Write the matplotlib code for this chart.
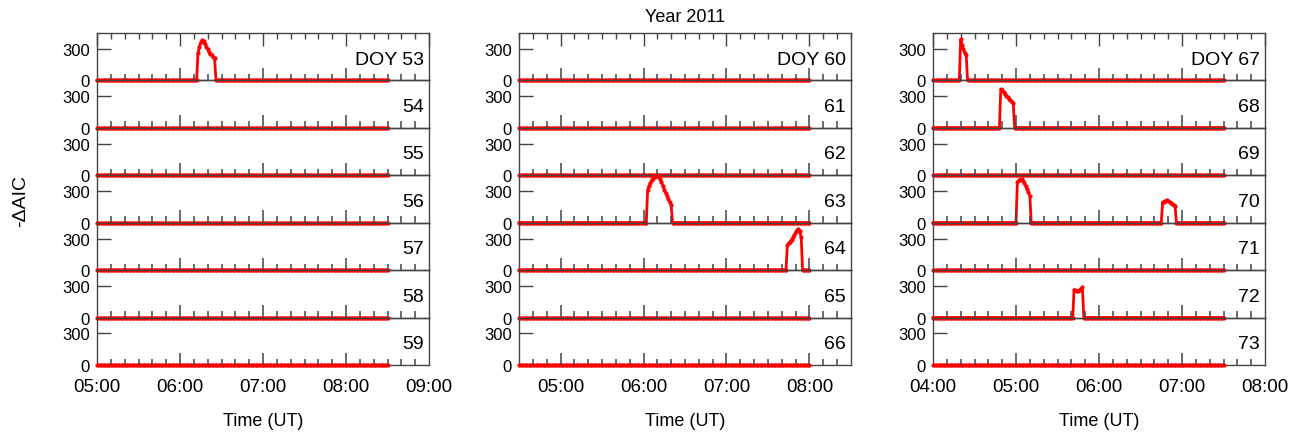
import numpy as np
import matplotlib
matplotlib.use('Agg')
import matplotlib.pyplot as plt
from matplotlib.ticker import MultipleLocator, FuncFormatter

plt.rcParams['font.family'] = ['Liberation Sans', 'DejaVu Sans']

# dias de cada coluna
doys_col1 = [53, 54, 55, 56, 57, 58, 59]
doys_col2 = [60, 61, 62, 63, 64, 65, 66]
doys_col3 = [67, 68, 69, 70, 71, 72, 73]

# inicio / fim dos dados e limites do eixo x (UT)
data_start = ['05:00', '04:30', '04:00']
data_end = ['08:30', '08:00', '07:30']
xlim_start = ['05:00', '04:30', '04:00']
xlim_end = ['09:00', '08:30', '08:00']

# eventos (-dAIC, amostras de 1 minuto a partir de t0)
ev53_t0 = '06:13'
ev53 = [260, 320, 360, 380, 370, 345, 320, 295, 270, 255, 240, 225, 210]
ev63_t0 = '06:03'
ev63 = [310, 350, 380, 405, 425, 435, 440, 445, 440, 415, 385, 350, 315,
        285, 255, 225, 195, 165]
ev64_t0 = '07:44'
ev64 = [240, 255, 270, 290, 310, 335, 360, 380, 390, 370, 310]
ev67_t0 = '04:20'
ev67 = [390, 340, 300, 260, 240]
ev68_t0 = '04:49'
ev68 = [365, 355, 340, 320, 305, 290, 275, 260, 248, 238]
ev70a_t0 = '05:01'
ev70a = [390, 402, 410, 412, 400, 378, 350, 320, 290, 255]
ev70b_t0 = '06:46'
ev70b = [195, 200, 208, 215, 210, 195, 185, 175, 165, 155]
ev72_t0 = '05:42'
ev72 = [265, 258, 255, 256, 262, 275, 290]

events = {53: [(ev53_t0, ev53)], 63: [(ev63_t0, ev63)], 64: [(ev64_t0, ev64)],
          67: [(ev67_t0, ev67)], 68: [(ev68_t0, ev68)],
          70: [(ev70a_t0, ev70a), (ev70b_t0, ev70b)], 72: [(ev72_t0, ev72)]}


def minutos(hhmm):
    h, m = hhmm.split(':')
    return int(h) * 60 + int(m)


def fmt_hora(v, pos):
    m = int(round(v * 60))
    return '%02d:%02d' % (m // 60, m % 60)


cols = [doys_col1, doys_col2, doys_col3]
lefts = [97, 519, 933]
width = 332
top_px, bot_px = 34, 366
W, H = 1304, 439
ph = (bot_px - top_px) / 7

fig = plt.figure(figsize=(W / 100, H / 100), dpi=100)
spc = '#444444'

for c, doys in enumerate(cols):
    mins = np.arange(minutos(data_start[c]), minutos(data_end[c]) + 1)
    x0 = minutos(xlim_start[c]) / 60.0
    x1 = minutos(xlim_end[c]) / 60.0
    for i, doy in enumerate(doys):
        ytop = top_px + i * ph
        ax = fig.add_axes([lefts[c] / W, 1 - (ytop + ph) / H, width / W, ph / H])
        ax.set_facecolor('none')
        y = np.zeros(len(mins))
        for t0, vals in events.get(doy, []):
            k = minutos(t0) - mins[0]
            y[k:k + len(vals)] = vals
        ax.plot(mins / 60.0, y, color='red', lw=2, marker='o', ms=2,
                clip_on=False, zorder=5)
        ax.set_xlim(x0, x1)
        ax.set_ylim(0, 450)
        ax.set_yticks([0, 300])
        ax.xaxis.set_major_locator(MultipleLocator(1))
        ax.xaxis.set_minor_locator(MultipleLocator(1 / 6))
        ax.xaxis.set_major_formatter(FuncFormatter(fmt_hora))
        for sp in ax.spines.values():
            sp.set_color(spc)
            sp.set_linewidth(1)
        ax.tick_params(axis='x', which='both', bottom=False)
        if i == 0:
            ax.tick_params(axis='x', which='major', direction='in', top=True,
                           length=9, width=1, color=spc)
            ax.tick_params(axis='x', which='minor', direction='in', top=True,
                           length=4.5, width=1, color=spc)
        ax.tick_params(axis='x', which='major', labelsize=13.5, pad=6)
        ax.tick_params(axis='y', direction='in', length=10, width=1, color=spc,
                       labelsize=12, pad=5, right=False)
        if i < 6:
            ax.tick_params(axis='x', labelbottom=False)
        label = 'DOY %d' % doy if i == 0 else str(doy)
        ax.text(0.985, 0.45, label, transform=ax.transAxes, ha='right', va='center',
                fontsize=14)

    # camada por cima da coluna com os ticks de baixo de cada painel
    maj = [v for v in ax.xaxis.get_majorticklocs() if x0 < v < x1]
    mnr = [v for v in ax.xaxis.get_minorticklocs() if x0 < v < x1]
    ov = fig.add_axes([lefts[c] / W, 1 - bot_px / H, width / W, (bot_px - top_px) / H])
    ov.set_zorder(20)
    ov.set_facecolor('none')
    ov.axis('off')
    ov.set_xlim(x0, x1)
    ov.set_ylim(0, 7)
    for k in range(7):
        ov.vlines(maj, k, k + 12.5 / ph, color=spc, lw=1.1)
        ov.vlines(mnr, k, k + 6.5 / ph, color=spc, lw=1.1)

    fig.text((lefts[c] + width / 2) / W, 0.04, 'Time (UT)', ha='center', va='center',
             fontsize=13)

fig.text(685 / W, 1 - 17 / H, 'Year 2011', ha='center', va='center', fontsize=13)
fig.text(21 / W, 1 - 201 / H, '-ΔAIC', ha='center', va='center', rotation=90,
         fontsize=14)

fig.savefig('out.png', dpi=100)
